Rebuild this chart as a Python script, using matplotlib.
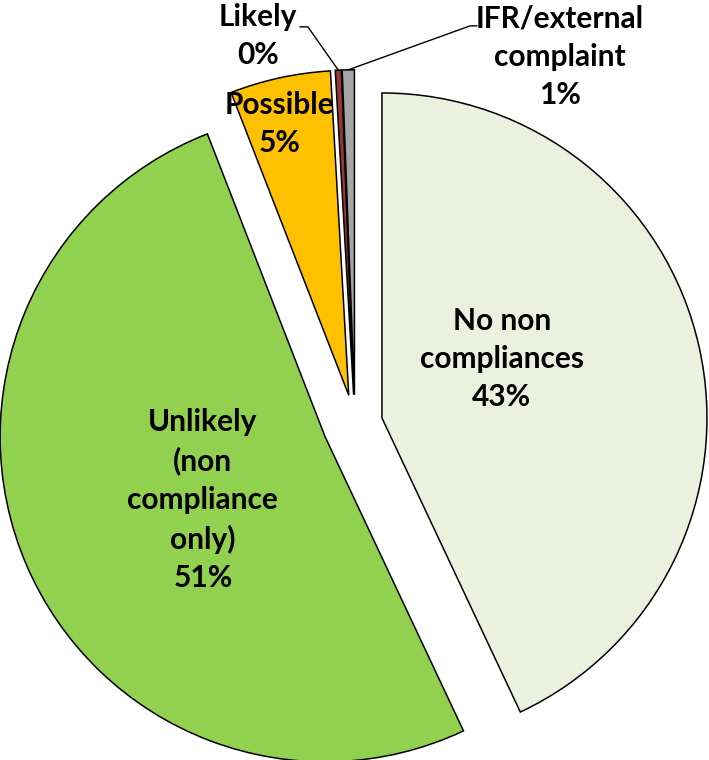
import matplotlib.pyplot as plt
import numpy as np

# slices, clockwise from 12 o'clock
categories = ["No non compliances", "Unlikely (non compliance only)", "Possible", "Likely", "IFR/external complaint"]
label_texts = ["No non\ncompliances\n43%", "Unlikely\n(non\ncompliance\nonly)\n51%", "Possible\n5%", "Likely\n0%", "IFR/external\ncomplaint\n1%"]
shares = [43.0, 51.1, 5.0, 0.3, 0.6]

colors = ["#EBF1DE", "#92D050", "#FFC000", "#953735", "#A6A6A6"]
explode = [0.085, 0.1, 0.09, 0.09, 0.09]

# label centres in data units (pie radius = 1)
label_pos = [(0.452, 0.200), (-0.468, -0.234), (-0.231, 0.923), (-0.298, 1.194), (0.631, 1.129)]
# elbow / end of the leader lines for the two thin slices
leader_pts = {3: [(-0.145, 1.222), (-0.169, 1.222)], 4: [(0.354, 1.225), (0.375, 1.225)]}

plt.rcParams["font.family"] = ["Lato", "DejaVu Sans"]

fig = plt.figure(figsize=(7.09, 7.60), dpi=100)
ax = fig.add_axes([0, 0, 1, 1])

wedges, _ = ax.pie(
    shares,
    explode=explode,
    colors=colors,
    startangle=90,
    counterclock=False,
    wedgeprops={"edgecolor": "black", "linewidth": 1.1},
)

for i, (txt, (x, y)) in enumerate(zip(label_texts, label_pos)):
    ax.text(x, y, txt, ha="center", va="center", fontsize=21.5, fontweight="bold",
            linespacing=1.45, color="black")

for i, pts in leader_pts.items():
    w = wedges[i]
    ang = np.deg2rad((w.theta1 + w.theta2) / 2)
    cx, cy = w.center
    start = (cx + w.r * np.cos(ang), cy + w.r * np.sin(ang))
    xs = [start[0]] + [p[0] for p in pts]
    ys = [start[1]] + [p[1] for p in pts]
    ax.plot(xs, ys, color="black", linewidth=1.0)

ax.set_xlim(-355 / 325, 354 / 325)
ax.set_ylim(-336 / 325, 424 / 325)
ax.set_aspect("auto")
ax.axis("off")

fig.savefig("out.png", dpi=100)
